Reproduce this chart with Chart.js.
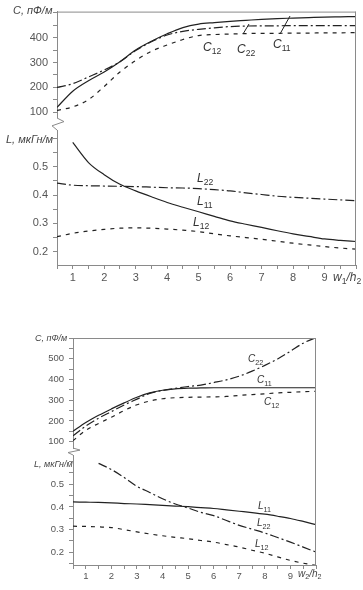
<!DOCTYPE html>
<html>
<head>
<meta charset="utf-8">
<script src="https://cdn.jsdelivr.net/npm/chart.js@4.4.0/dist/chart.umd.min.js"></script>
<style>
body { margin: 0; background: #fff; }
#wrap { position: relative; width: 363px; height: 590px; overflow: hidden; font-family: Arial, "Liberation Sans", sans-serif; }
canvas { position: absolute; left: 0; top: 0; }
.t { position: absolute; color: #333; white-space: nowrap; line-height: 1; font-style: italic; }
.t sub { font-size: 72%; vertical-align: -0.35em; font-style: normal; }
.ax { position: absolute; color: #444; white-space: nowrap; line-height: 1; font-style: italic; }
.ax sub { font-size: 72%; vertical-align: -0.3em; font-style: normal; }
</style>
</head>
<body>
<div id="wrap">
  <canvas id="topC" width="363" height="590"></canvas>
  <canvas id="topL" width="363" height="590"></canvas>
  <canvas id="botC" width="363" height="590"></canvas>
  <canvas id="botL" width="363" height="590"></canvas>

  <!-- axis titles -->
  <div class="ax" style="left:13px;top:5px;font-size:11px;">C, пФ/м</div>
  <div class="ax" style="left:6px;top:134px;font-size:11px;">L, мкГн/м</div>
  <div class="ax" style="left:333px;top:271px;font-size:12px;">w<sub>1</sub>/h<sub>2</sub></div>
  <div class="ax" style="left:35px;top:334px;font-size:9px;">C, пФ/м</div>
  <div class="ax" style="left:34px;top:460px;font-size:9px;">L, мкГн/м</div>
  <div class="ax" style="left:298px;top:569px;font-size:10px;">w<sub>2</sub>/h<sub>2</sub></div>

  <!-- curve labels -->
  <div class="t" style="left:203px;top:41px;font-size:12px;">C<sub>12</sub></div>
  <div class="t" style="left:237px;top:43px;font-size:12px;">C<sub>22</sub></div>
  <div class="t" style="left:273px;top:38px;font-size:12px;">C<sub>11</sub></div>
  <div class="t" style="left:197px;top:172px;font-size:12px;">L<sub>22</sub></div>
  <div class="t" style="left:197px;top:195px;font-size:12px;">L<sub>11</sub></div>
  <div class="t" style="left:193px;top:216px;font-size:12px;">L<sub>12</sub></div>

  <div class="t" style="left:248px;top:354px;font-size:10px;">C<sub>22</sub></div>
  <div class="t" style="left:257px;top:375px;font-size:10px;">C<sub>11</sub></div>
  <div class="t" style="left:264px;top:397px;font-size:10px;">C<sub>12</sub></div>
  <div class="t" style="left:258px;top:501px;font-size:10px;">L<sub>11</sub></div>
  <div class="t" style="left:257px;top:518px;font-size:10px;">L<sub>22</sub></div>
  <div class="t" style="left:255px;top:539px;font-size:10px;">L<sub>12</sub></div>
</div>

<script>
// ---- data (w/h on x) ----
const W = [0.5, 1, 1.5, 2, 2.5, 3, 3.5, 4, 4.5, 5, 5.5, 6, 6.5, 7, 7.5, 8, 8.5, 9, 9.5, 10];

// upper figure, w1/h2
const C11_a = [120, 185, 227, 262, 303, 350, 385, 415, 440, 454, 460, 465, 469, 473, 476, 478, 480, 482, 483, 484];
const C22_a = [200, 215, 242, 270, 303, 348, 383, 410, 425, 433, 439, 444, 446, 447, 447, 448, 448, 448, 448, 448];
const C12_a = [108, 122, 151, 204, 262, 308, 345, 370, 392, 408, 412, 414, 416, 417, 417, 418, 418, 419, 419, 420];
const L11_a = [null, 0.586, 0.515, 0.472, 0.438, 0.415, 0.394, 0.374, 0.357, 0.341, 0.325, 0.309, 0.297, 0.286, 0.274, 0.263, 0.254, 0.245, 0.240, 0.236];
const L22_a = [0.442, 0.435, 0.433, 0.432, 0.431, 0.430, 0.428, 0.426, 0.425, 0.423, 0.419, 0.415, 0.408, 0.402, 0.396, 0.392, 0.389, 0.386, 0.383, 0.380];
const L12_a = [0.253, 0.265, 0.273, 0.279, 0.283, 0.284, 0.283, 0.280, 0.276, 0.271, 0.263, 0.256, 0.250, 0.244, 0.237, 0.230, 0.224, 0.218, 0.213, 0.209];

// lower figure, w2/h2
const C11_b = [150, 192, 227, 258, 287, 314, 335, 348, 355, 358, 359, 360, 360, 360, 360, 360, 360, 360, 360, 360];
const C22_b = [128, 175, 213, 245, 277, 305, 333, 347, 357, 366, 373, 385, 398, 416, 440, 468, 499, 536, 575, 602];
const C12_b = [105, 155, 188, 218, 250, 278, 296, 307, 312, 314, 315, 316, 318, 323, 327, 331, 335, 338, 341, 343];
const L11_b = [0.422, 0.421, 0.420, 0.418, 0.415, 0.413, 0.410, 0.407, 0.404, 0.401, 0.397, 0.393, 0.387, 0.381, 0.375, 0.368, 0.359, 0.349, 0.336, 0.322];
const L22_b = [null, null, 0.592, 0.565, 0.530, 0.491, 0.464, 0.436, 0.413, 0.395, 0.376, 0.362, 0.340, 0.319, 0.302, 0.285, 0.265, 0.245, 0.223, 0.201];
const L12_b = [0.315, 0.314, 0.312, 0.309, 0.300, 0.290, 0.281, 0.273, 0.266, 0.260, 0.252, 0.245, 0.234, 0.223, 0.209, 0.196, 0.180, 0.164, 0.152, 0.142];

const X_LABELS = ['1', '2', '3', '4', '5', '6', '7', '8', '9'];

// ---- styles ----
const INK = '#222';
const AXIS = '#8a8a8a';
const SOLID = [];
const DASHDOT = [9, 3, 2, 3];
const DASHED = [4, 5];

function series(vals, dash) {
    return {
        data: W.map((x, i) => ({ x: x, y: vals[i] })),
        borderColor: INK, borderWidth: 1.2, borderDash: dash,
        pointRadius: 0, fill: false, cubicInterpolationMode: 'monotone'
    };
}

// frame (top/right border), axis break zigzag, label leaders
const framePlugin = {
    id: 'frame',
    afterDraw(chart, args, o) {
        const a = chart.chartArea, ctx = chart.ctx;
        ctx.save();
        ctx.strokeStyle = AXIS; ctx.lineWidth = 1;
        ctx.beginPath();
        if (o.top) { ctx.moveTo(a.left, a.top + 0.5); ctx.lineTo(a.right, a.top + 0.5); }
        ctx.moveTo(a.right - 0.5, a.top); ctx.lineTo(a.right - 0.5, o.rightTo || a.bottom);
        ctx.stroke();
        if (o.gap) {
            const g = o.gap, x = a.left, y = a.bottom;
            ctx.beginPath();
            ctx.moveTo(x, y);
            ctx.lineTo(x + 7, y + g * 0.3);
            ctx.lineTo(x - 5, y + g * 0.65);
            ctx.lineTo(x, y + g);
            ctx.stroke();
        }
        ctx.strokeStyle = INK;
        (o.leaders || []).forEach(l => {
            ctx.beginPath(); ctx.moveTo(l[0], l[1]); ctx.lineTo(l[2], l[3]); ctx.stroke();
        });
        ctx.restore();
    }
};

function makeChart(id, sets, cfg) {
    const fs = cfg.tickSize;
    const scales = {
        x: {
            type: 'linear', min: 0.5, max: 10, display: cfg.showX,
            afterFit: s => { if (cfg.showX) s.height = 25; },
            border: { display: true, color: AXIS, width: 1 },
            grid: { drawOnChartArea: false, drawTicks: true, tickLength: 4, color: AXIS },
            ticks: {
                stepSize: 0.5, autoSkip: false, maxRotation: 0, padding: 2, includeBounds: false,
                color: '#555', font: { family: 'Arial', size: fs },
                callback: v => (Number.isInteger(v) && v >= 1 && v <= 9) ? X_LABELS[v - 1] : ''
            }
        },
        y: {
            type: 'linear', min: cfg.min, max: cfg.max,
            afterFit: s => { s.width = cfg.left; },
            border: { display: true, color: AXIS, width: 1 },
            grid: { drawOnChartArea: false, drawTicks: true, tickLength: 4, color: AXIS },
            ticks: {
                stepSize: cfg.step, autoSkip: false, includeBounds: false, padding: 5,
                color: '#555', font: { family: 'Arial', size: fs },
                callback: cfg.label
            }
        }
    };
    return new Chart(document.getElementById(id), {
        type: 'line',
        data: { datasets: sets },
        options: {
            responsive: false, devicePixelRatio: 1, animation: false,
            layout: { padding: cfg.pad },
            plugins: { legend: { display: false }, tooltip: { enabled: false }, frame: cfg.frame },
            scales: scales
        },
        plugins: [framePlugin]
    });
}

const cLabel = top => v => (v % 100 === 0 && v < top) ? String(v) : '';
const lLabel = v => {
    const t = Math.round(v * 100);
    return (t % 10 === 0 && t < 60) ? (t / 100).toFixed(1) : '';
};

// upper figure
makeChart('topC', [series(C11_a, SOLID), series(C22_a, DASHDOT), series(C12_a, DASHED)], {
    showX: false, min: 77.5, max: 504, step: 50, left: 57, tickSize: 11,
    pad: { left: 0, right: 7, top: 10, bottom: 472 },
    label: cLabel(500),
    frame: { top: true, rightTo: 130, gap: 12, leaders: [[243, 34, 249, 24], [280, 34, 290, 16]] }
});
makeChart('topL', [series(L11_a, SOLID), series(L22_a, DASHDOT), series(L12_a, DASHED)], {
    showX: true, min: 0.153, max: 0.63, step: 0.05, left: 57, tickSize: 11,
    pad: { left: 0, right: 7, top: 130, bottom: 300 },
    label: lLabel,
    frame: {}
});

// lower figure
makeChart('botC', [series(C11_b, SOLID), series(C22_b, DASHDOT), series(C12_b, DASHED)], {
    showX: false, min: 69.5, max: 600, step: 50, left: 73, tickSize: 9.5,
    pad: { left: 0, right: 47, top: 338, bottom: 142 },
    label: cLabel(600),
    frame: { top: true, rightTo: 455, gap: 7 }
});
makeChart('botL', [series(L11_b, SOLID), series(L22_b, DASHDOT), series(L12_b, DASHED)], {
    showX: true, min: 0.144, max: 0.629, step: 0.05, left: 73, tickSize: 9.5,
    pad: { left: 0, right: 47, top: 455, bottom: 0 },
    label: lLabel,
    frame: {}
});
</script>
</body>
</html>
